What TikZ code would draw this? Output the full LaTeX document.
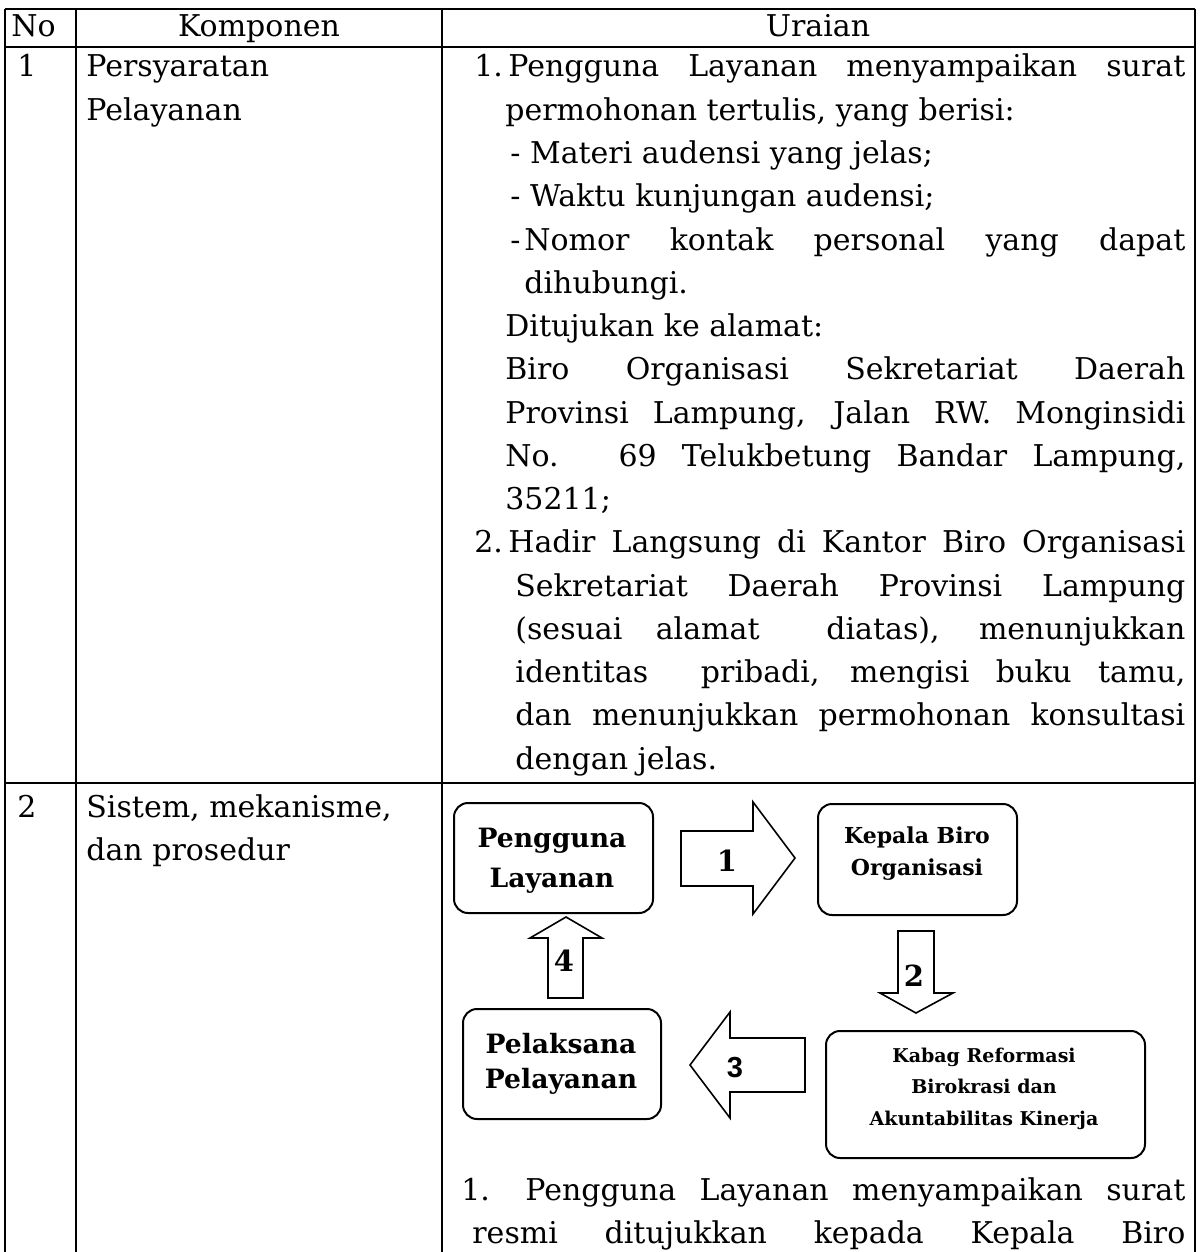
\documentclass[tikz,border=0pt]{standalone}
\usepackage{fontspec}
\setmainfont{DejaVu Serif}
\newfontfamily\numsans{Liberation Sans}

% one text line, set on its baseline
\newcommand\tline[4]{\node[txt] (#1) at (#2,#3) {#4};}
% one justified line running from x=#2 to x=#3
\newcommand\jline[5]{\node[txt] (#1) at (#2,#4) {\makebox[\dimexpr(#3pt-#2pt)/2\relax][s]{#5}};}

\begin{document}
\begin{tikzpicture}[x=0.5pt,y=-0.5pt,
  txt/.style={anchor=base west, inner sep=0pt, font=\fontsize{15}{17}\selectfont},
  ctxt/.style={anchor=base, inner sep=0pt, font=\fontsize{15}{17}\selectfont},
  grid/.style={line width=1.1pt},
  flowbox/.style={draw, line width=1pt, rounded corners=7pt, anchor=north west, inner sep=0pt},
  boxtxt/.style={anchor=base, inner sep=0pt, font=\bfseries\fontsize{13.3}{15}\selectfont},
  smalltxt/.style={anchor=base, inner sep=0pt, font=\bfseries\fontsize{11}{12}\selectfont},
  tinytxt/.style={anchor=base, inner sep=0pt, font=\bfseries\fontsize{9.5}{11}\selectfont},
  blockarrow/.style={draw, line width=0.8pt, fill=white, line join=miter},
  steplabel/.style={anchor=center, inner sep=0pt, font=\bfseries\fontsize{14.5}{15}\selectfont},
]
\useasboundingbox (0,0) rectangle (1199,1252);

% table rules
\draw[grid] (5,9) -- (1195,9);
\draw[grid] (5,47) -- (1195,47);
\draw[grid] (5,783) -- (1195,783);
\draw[grid] (5,9) -- (5,1252);
\draw[grid] (76,9) -- (76,1252);
\draw[grid] (442,9) -- (442,1252);
\draw[grid] (1195,9) -- (1195,1252);

% header
\tline{hno}{11}{37}{No}
\node[ctxt] (hkomp) at (259,37) {Komponen};
\node[ctxt] (hurai) at (818,37) {Uraian};

% row 1
\tline{r1no}{17}{77}{1}
\tline{r1k1}{86}{77}{Persyaratan}
\tline{r1k2}{86}{120.25}{Pelayanan}

\tline{n1}{474}{77}{1.}
\jline{l0}{508}{1185}{77}{Pengguna Layanan menyampaikan surat}
\tline{l1}{505}{120.25}{permohonan tertulis, yang berisi:}
\tline{l2}{510}{163.5}{- Materi audensi yang jelas;}
\tline{l3}{510}{206.75}{- Waktu kunjungan audensi;}
\tline{l4d}{510}{250}{-}
\jline{l4}{524}{1185}{250}{Nomor kontak personal yang dapat}
\tline{l5}{524}{293.25}{dihubungi.}
\tline{l6}{505}{336.5}{Ditujukan ke alamat:}
\jline{l7}{505}{1185}{379.75}{Biro Organisasi Sekretariat Daerah}
\jline{l8}{505}{1185}{423}{Provinsi Lampung, Jalan RW. Monginsidi}
\jline{l9}{505}{1185}{466.25}{No. 69 Telukbetung Bandar Lampung,}
\tline{l10}{505}{509.5}{35211;}
\tline{n2}{474}{552.75}{2.}
\jline{l11}{508}{1185}{552.75}{Hadir Langsung di Kantor Biro Organisasi}
\jline{l12}{515}{1185}{596}{Sekretariat Daerah Provinsi Lampung}
\jline{l13}{515}{1185}{639.25}{(sesuai alamat\ \ diatas), menunjukkan}
\jline{l14}{515}{1185}{682.5}{identitas\ \ pribadi, mengisi buku tamu,}
\jline{l15}{515}{1185}{725.75}{dan menunjukkan permohonan konsultasi}
\tline{l16}{515}{769}{dengan jelas.}

% row 2
\tline{r2no}{17}{817}{2}
\tline{r2k1}{86}{817}{Sistem, mekanisme,}
\tline{r2k2}{86}{860}{dan prosedur}

% flow boxes
\node[flowbox, minimum width=99.5pt, minimum height=55pt] (pengguna) at (453,802) {};
\node[flowbox, minimum width=99.5pt, minimum height=55.5pt] (kepala) at (817,803) {};
\node[flowbox, minimum width=159.5pt, minimum height=63.5pt] (kabag) at (825,1030) {};
\node[flowbox, minimum width=99pt, minimum height=55pt] (pelaksana) at (462,1008) {};

\node[boxtxt] (pengguna-a) at (552,847) {Pengguna};
\node[boxtxt] (pengguna-b) at (552,887) {Layanan};
\node[smalltxt] (kepala-a) at (917,843) {Kepala Biro};
\node[smalltxt] (kepala-b) at (917,875) {Organisasi};
\node[tinytxt] (kabag-a) at (984,1062) {Kabag Reformasi};
\node[tinytxt] (kabag-b) at (984,1093) {Birokrasi dan};
\node[tinytxt] (kabag-c) at (984,1125) {Akuntabilitas Kinerja};
\node[boxtxt] (pelaksana-a) at (561,1053) {Pelaksana};
\node[boxtxt] (pelaksana-b) at (561,1088) {Pelayanan};

% block arrows between the boxes
\draw[blockarrow] (681,831) -- (753,831) -- (753,802) -- (795,858) -- (753,914) -- (753,886) -- (681,886) -- cycle;
\draw[blockarrow] (898,931) -- (934,931) -- (934,993) -- (953,993) -- (916,1013) -- (880,993) -- (898,993) -- cycle;
\draw[blockarrow] (805,1038) -- (730,1038) -- (730,1012) -- (690,1065) -- (730,1118) -- (730,1092) -- (805,1092) -- cycle;
\draw[blockarrow] (548,998) -- (548,938) -- (530,938) -- (566,917) -- (602,938) -- (583,938) -- (583,998) -- cycle;

\node[steplabel] (s1) at (727,861) {1};
\node[steplabel] (s2) at (914,976) {2};
\node[steplabel, font=\numsans\bfseries\fontsize{14.5}{15}\selectfont] (s3) at (735,1068) {3};
\node[steplabel] (s4) at (564,961) {4};

% description under the flow
\tline{p1n}{461}{1200}{1.}
\jline{p1}{525}{1185}{1200}{Pengguna Layanan menyampaikan surat}
\jline{p2}{472}{1185}{1243}{resmi ditujukkan kepada Kepala Biro}
\end{tikzpicture}
\end{document}
